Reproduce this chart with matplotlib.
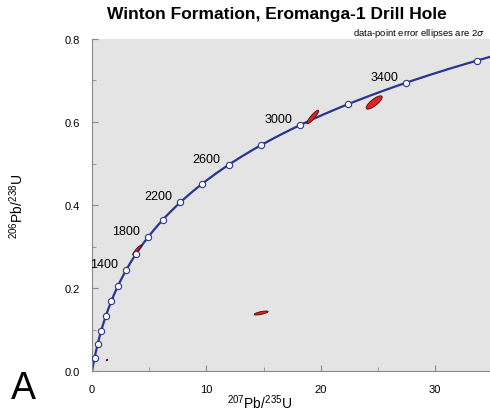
import numpy as np
import matplotlib
matplotlib.use("Agg")
import matplotlib.pyplot as plt
from matplotlib.patches import Polygon

plt.rcParams['font.family'] = ['Liberation Sans', 'DejaVu Sans']
plt.rcParams['mathtext.fontset'] = 'custom'
plt.rcParams['mathtext.rm'] = 'Liberation Sans'

# decay constants (1/yr)
lam238 = 1.55125e-10
lam235 = 9.8485e-10

# concordia age marks (Ma) and which of them get a label
mark_ages = [200, 400, 600, 800, 1000, 1200, 1400, 1600, 1800, 2000,
             2200, 2400, 2600, 2800, 3000, 3200, 3400, 3600]
label_ages = [1400, 1800, 2200, 2600, 3000, 3400]

# zircon analyses: 207/235, 206/238, 2-sigma errors, error correlation
pb207_u235 = [19.30, 24.67, 14.79, 3.94, 1.75, 1.31]
pb206_u238 = [0.612, 0.647, 0.1398, 0.2916, 0.169, 0.0265]
err_x = [0.52, 0.70, 0.61, 0.39, 0.12, 0.06]
err_y = [0.0165, 0.0160, 0.0048, 0.012, 0.006, 0.002]
rho = [0.90, 0.80, 0.70, 0.93, 0.90, 0.5]

fig = plt.figure(figsize=(4.9, 4.14), dpi=100)
ax = fig.add_axes([0.1878, 0.1014, 0.8122, 0.802])
ax.set_facecolor('#e4e4e4')

# concordia curve
t = np.linspace(0, 3900, 800) * 1e6
ax.plot(np.exp(lam235 * t) - 1, np.exp(lam238 * t) - 1,
        color='#2b3490', lw=1.6, zorder=2)

# error ellipses
s = np.linspace(0, 2 * np.pi, 100)
for x0, y0, ex, ey, r in zip(pb207_u235, pb206_u238, err_x, err_y, rho):
    ex_pts = x0 + ex * np.cos(s)
    ey_pts = y0 + ey * (r * np.cos(s) + np.sqrt(1 - r ** 2) * np.sin(s))
    ax.add_patch(Polygon(np.column_stack([ex_pts, ey_pts]), closed=True,
                         facecolor='#e52222', edgecolor='#3a0a0a',
                         lw=0.6, zorder=3))

# age markers
ta = np.array(mark_ages) * 1e6
ax.plot(np.exp(lam235 * ta) - 1, np.exp(lam238 * ta) - 1, 'o',
        ms=4.5, mfc='white', mec='#2b3490', mew=0.8, zorder=4)

for age in label_ages:
    tt = age * 1e6
    ax.annotate(str(age), (np.exp(lam235 * tt) - 1, np.exp(lam238 * tt) - 1),
                xytext=(-8, 6), textcoords='offset pixels',
                ha='right', va='center', fontsize=9, zorder=5)

ax.set_xlim(0, 34.8)
ax.set_ylim(0, 0.8)
ax.set_xticks([0, 10, 20, 30])
ax.set_xticks([5, 15, 25], minor=True)
ax.set_yticks([0.0, 0.2, 0.4, 0.6, 0.8])
ax.set_yticks([0.1, 0.3, 0.5, 0.7], minor=True)
ax.set_yticklabels(['0.0', '0.2', '0.4', '0.6', '0.8'])
ax.tick_params(which='both', direction='in', color='#888888', labelsize=8)
ax.tick_params(which='major', length=4, pad=9)
ax.tick_params(which='minor', length=3)

for side in ['top', 'right']:
    ax.spines[side].set_visible(False)
for side in ['left', 'bottom']:
    ax.spines[side].set_color('#888888')
    ax.spines[side].set_linewidth(0.8)

ax.set_xlabel(r'$^{207}$Pb/$^{235}$U', fontsize=10)
ax.xaxis.set_label_coords(0.42, -0.065)
ax.set_ylabel(r'$^{206}$Pb/$^{238}$U', fontsize=10)
ax.yaxis.set_label_coords(-0.165, 0.5)

fig.text(0.565, 0.965, 'Winton Formation, Eromanga-1 Drill Hole',
         ha='center', va='center', fontsize=12.5, fontweight='bold')
fig.text(0.99, 0.92, r'data-point error ellipses are 2$\sigma$',
         ha='right', va='center', fontsize=6.8)
fig.text(0.022, 0.06, 'A', ha='left', va='center', fontsize=27)

fig.savefig('out.png', dpi=100)
